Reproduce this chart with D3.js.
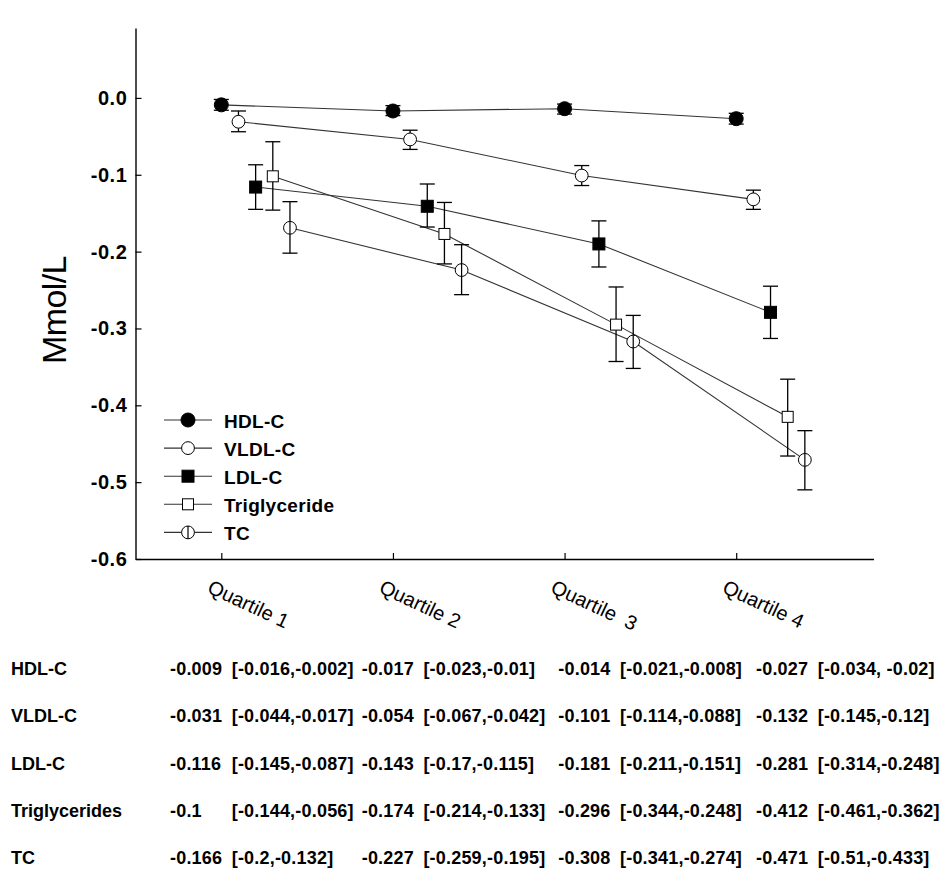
<!DOCTYPE html>
<html>
<head>
<meta charset="utf-8">
<script src="https://cdn.jsdelivr.net/npm/d3@7"></script>
<style>
  body { margin: 0; background: #fff; }
  svg { display: block; }
  text { font-family: Arial, "Liberation Sans", sans-serif; }
</style>
</head>
<body>
<svg id="chart" width="946" height="894"></svg>
<script>
// ---------- data ----------
const categories = ["Quartile 1", "Quartile 2", "Quartile  3", "Quartile 4"];
const seriesNames = ["HDL-C", "VLDL-C", "LDL-C", "Triglyceride", "TC"];

// plotted means and 95% CI
const hdlMean  = [-0.009, -0.017, -0.014, -0.027];
const hdlLow   = [-0.016, -0.023, -0.021, -0.034];
const hdlHigh  = [-0.002, -0.010, -0.008, -0.020];

const vldlMean = [-0.031, -0.054, -0.101, -0.132];
const vldlLow  = [-0.044, -0.067, -0.114, -0.145];
const vldlHigh = [-0.017, -0.042, -0.088, -0.120];

const ldlMean  = [-0.116, -0.141, -0.190, -0.279];
const ldlLow   = [-0.145, -0.168, -0.220, -0.313];
const ldlHigh  = [-0.087, -0.112, -0.160, -0.245];

const trigMean = [-0.102, -0.177, -0.295, -0.415];
const trigLow  = [-0.146, -0.216, -0.343, -0.466];
const trigHigh = [-0.057, -0.136, -0.246, -0.366];

const tcMean   = [-0.169, -0.224, -0.317, -0.471];
const tcLow    = [-0.202, -0.256, -0.352, -0.510];
const tcHigh   = [-0.135, -0.191, -0.283, -0.433];

const yTicks = [0.0, -0.1, -0.2, -0.3, -0.4, -0.5, -0.6];
const yLabel = "Mmol/L";

// table below the chart
const tableRowLabels = ["HDL-C", "VLDL-C", "LDL-C", "Triglycerides", "TC"];
const tableValues = [
  ["-0.009", "-0.017", "-0.014", "-0.027"],
  ["-0.031", "-0.054", "-0.101", "-0.132"],
  ["-0.116", "-0.143", "-0.181", "-0.281"],
  ["-0.1",   "-0.174", "-0.296", "-0.412"],
  ["-0.166", "-0.227", "-0.308", "-0.471"]
];
const tableCIs = [
  ["[-0.016,-0.002]", "[-0.023,-0.01]",  "[-0.021,-0.008]", "[-0.034, -0.02]"],
  ["[-0.044,-0.017]", "[-0.067,-0.042]", "[-0.114,-0.088]", "[-0.145,-0.12]"],
  ["[-0.145,-0.087]", "[-0.17,-0.115]",  "[-0.211,-0.151]", "[-0.314,-0.248]"],
  ["[-0.144,-0.056]", "[-0.214,-0.133]", "[-0.344,-0.248]", "[-0.461,-0.362]"],
  ["[-0.2,-0.132]",   "[-0.259,-0.195]", "[-0.341,-0.274]", "[-0.51,-0.433]"]
];

// ---------- layout ----------
const svg = d3.select("#chart");
svg.append("rect").attr("width", 946).attr("height", 894).attr("fill", "#fff");

const x = d3.scaleLinear().domain([0.5, 4.8]).range([135.5, 873.5]);
const y = d3.scaleLinear().domain([-0.6, 0.091]).range([559, 28]);
const offsetStep = 0.1;

const series = [
  { name: seriesNames[0], mean: hdlMean,  low: hdlLow,  high: hdlHigh,  shape: "circle", fill: "#000" },
  { name: seriesNames[1], mean: vldlMean, low: vldlLow, high: vldlHigh, shape: "circle", fill: "#fff" },
  { name: seriesNames[2], mean: ldlMean,  low: ldlLow,  high: ldlHigh,  shape: "square", fill: "#000" },
  { name: seriesNames[3], mean: trigMean, low: trigLow, high: trigHigh, shape: "square", fill: "#fff" },
  { name: seriesNames[4], mean: tcMean,   low: tcLow,   high: tcHigh,   shape: "halfcircle", fill: "#fff" }
];

// axes
const yAxis = d3.axisLeft(y).tickValues(yTicks).tickSize(-6).tickSizeOuter(0).tickPadding(8)
  .tickFormat(d => d.toFixed(1));
const gy = svg.append("g").attr("transform", `translate(${x.range()[0]},0)`).call(yAxis);
gy.select(".domain").attr("stroke", "#000").attr("stroke-width", 1.4);
gy.selectAll(".tick line").attr("stroke", "#000").attr("stroke-width", 1.2);
gy.selectAll(".tick text").attr("fill", "#000").style("font-size", "20px").style("font-weight", "bold")
  .style("letter-spacing", "0.6px");

const xAxis = d3.axisBottom(x).tickValues([1, 2, 3, 4]).tickSize(-6).tickSizeOuter(0).tickFormat("");
const gx = svg.append("g").attr("transform", `translate(0,${y.range()[0]})`).call(xAxis);
gx.select(".domain").attr("stroke", "#000").attr("stroke-width", 1.4);
gx.selectAll(".tick line").attr("stroke", "#000").attr("stroke-width", 1.2);

// rotated category labels
svg.append("g").selectAll("text").data(categories).join("text")
  .attr("transform", (d, i) => `translate(${x(i + 1) - 15},${592}) rotate(25)`)
  .attr("xml:space", "preserve")
  .style("white-space", "pre")
  .style("font-size", "20px")
  .attr("fill", "#000")
  .text(d => d);

// y label
svg.append("text")
  .attr("transform", `translate(66,310) rotate(-90)`)
  .attr("text-anchor", "middle")
  .style("font-size", "34px")
  .style("letter-spacing", "-0.6px")
  .attr("fill", "#000")
  .text(yLabel);

// connecting lines
const line = d3.line();
series.forEach((s, si) => {
  const pts = s.mean.map((v, i) => [x(i + 1 + si * offsetStep), y(v)]);
  svg.append("path").attr("d", line(pts)).attr("fill", "none")
    .attr("stroke", "#333").attr("stroke-width", 1.1);
});

// error bars
const capHalf = 7.5;
series.forEach((s, si) => {
  const g = svg.append("g").attr("stroke", "#000").attr("stroke-width", 1.3);
  s.mean.forEach((v, i) => {
    const cx = x(i + 1 + si * offsetStep);
    g.append("line").attr("x1", cx).attr("x2", cx).attr("y1", y(s.low[i])).attr("y2", y(s.high[i]));
    g.append("line").attr("x1", cx - capHalf).attr("x2", cx + capHalf).attr("y1", y(s.low[i])).attr("y2", y(s.low[i]));
    g.append("line").attr("x1", cx - capHalf).attr("x2", cx + capHalf).attr("y1", y(s.high[i])).attr("y2", y(s.high[i]));
  });
});

// markers
function drawMarker(g, s, cx, cy) {
  if (s.shape === "circle") {
    const r = s.fill === "#000" ? 7 : 6.4;
    g.append("circle").attr("cx", cx).attr("cy", cy).attr("r", r)
      .attr("fill", s.fill).attr("stroke", "#000").attr("stroke-width", 1);
  } else if (s.shape === "square") {
    const h = s.fill === "#000" ? 6 : 5.5;
    g.append("rect").attr("x", cx - h).attr("y", cy - h).attr("width", 2 * h).attr("height", 2 * h)
      .attr("fill", s.fill).attr("stroke", "#000").attr("stroke-width", 1);
  } else {
    const r = 6.4;
    g.append("circle").attr("cx", cx).attr("cy", cy).attr("r", r)
      .attr("fill", "#fff").attr("stroke", "#000").attr("stroke-width", 1);
    g.append("line").attr("x1", cx).attr("x2", cx).attr("y1", cy - r).attr("y2", cy + r)
      .attr("stroke", "#000").attr("stroke-width", 1.2);
  }
}
series.forEach((s, si) => {
  const g = svg.append("g");
  s.mean.forEach((v, i) => drawMarker(g, s, x(i + 1 + si * offsetStep), y(v)));
});

// legend
const legY0 = 420, legStep = 28.1;
series.forEach((s, si) => {
  const ly = legY0 + si * legStep;
  const g = svg.append("g");
  g.append("line").attr("x1", 164).attr("x2", 212).attr("y1", ly).attr("y2", ly)
    .attr("stroke", "#333").attr("stroke-width", 1.1);
  drawMarker(g, s, 188, ly);
  g.append("text").attr("x", 224).attr("y", ly + 7.5)
    .style("font-size", "19px").style("font-weight", "bold").style("letter-spacing", "0.3px")
    .attr("fill", "#000").text(s.name);
});

// table
const rowY0 = 675, rowStep = 47.25;
const valueCols = [170, 361.7, 558.3, 756];
const ciShift = 61.7;
const tg = svg.append("g").style("font-weight", "bold").attr("fill", "#000");
tableRowLabels.forEach((lab, r) => {
  const by = rowY0 + r * rowStep;
  tg.append("text").attr("x", 11).attr("y", by).style("font-size", "18px").text(lab);
  tableValues[r].forEach((v, c) => {
    tg.append("text").attr("x", valueCols[c]).attr("y", by).style("font-size", "18px")
      .style("letter-spacing", "0.2px").text(v);
    tg.append("text").attr("x", valueCols[c] + ciShift).attr("y", by).style("font-size", "18px")
      .style("letter-spacing", "0.2px").text(tableCIs[r][c]);
  });
});
</script>
</body>
</html>
